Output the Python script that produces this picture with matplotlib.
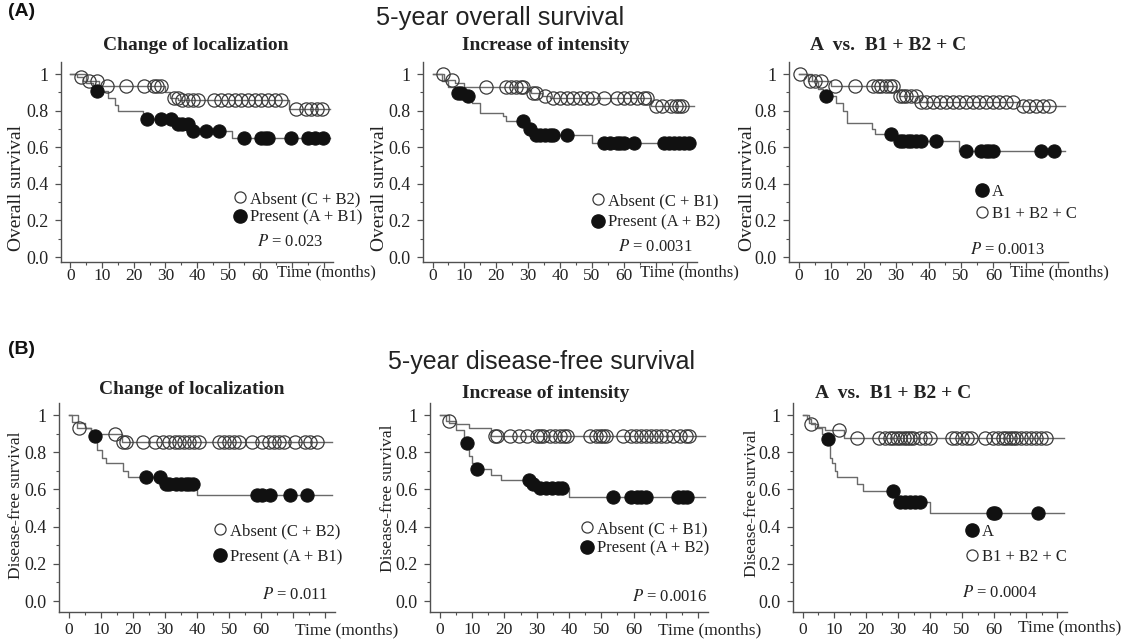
import numpy as np
import matplotlib
matplotlib.use("Agg")
import matplotlib.pyplot as plt
from matplotlib.lines import Line2D

# ---------------- data ----------------
followup_end = 82

# (A) overall survival - change of localization
os_loc_abs_t = [0, 2, 4, 9, 30, 31.5, 34, 69]
os_loc_abs_s = [1.0, 0.985, 0.96, 0.935, 0.90, 0.87, 0.86, 0.81]
os_loc_abs_c = [3.2, 5.8, 8.5, 11.6, 17.5, 23.3, 26.5, 27.5, 28.6, 32.8, 33.9, 35.4, 37.0, 38.6,
                40.2, 45.5, 47.6, 49.7, 51.9, 54.0, 56.0, 58.2, 60.3, 62.4, 64.6, 66.7, 71.4,
                74.6, 76.2, 77.8, 79.4]
os_loc_pre_t = [0, 5, 7, 12, 14, 15, 23, 32.5, 38, 51]
os_loc_pre_s = [1.0, 0.95, 0.91, 0.87, 0.83, 0.80, 0.755, 0.725, 0.69, 0.65]
os_loc_pre_c = [8.5, 24.3, 28.6, 31.7, 33.9, 35.4, 37.0, 38.6, 42.9, 47.0, 55.0, 60.3, 61.4,
                62.4, 69.8, 75.1, 77.2, 79.9]

# (A) overall survival - increase of intensity
os_int_abs_t = [0, 3.5, 7, 10, 29.5, 31, 34.5, 37, 68.5]
os_int_abs_s = [1.0, 0.97, 0.95, 0.93, 0.915, 0.897, 0.878, 0.869, 0.824]
os_int_abs_c = [3.2, 6.1, 16.8, 23.2, 24.7, 26.3, 27.9, 28.4, 31.6, 32.6, 35.3, 37.9, 40.0, 42.1,
                44.2, 46.3, 48.4, 50.5, 53.7, 57.9, 60.0, 62.1, 64.2, 66.3, 67.4, 70.0, 72.1,
                74.7, 76.3, 77.4, 78.4]
os_int_pre_t = [0, 3, 5, 7, 10, 12.5, 15, 22, 23, 29.5, 32, 50]
os_int_pre_s = [1.0, 0.96, 0.93, 0.895, 0.88, 0.84, 0.79, 0.77, 0.745, 0.70, 0.665, 0.625]
os_int_pre_c = [7.9, 8.9, 11.1, 28.4, 30.5, 32.6, 33.7, 35.3, 36.8, 37.9, 42.1, 53.7, 55.8,
                57.9, 58.9, 60.0, 63.2, 72.6, 74.2, 75.8, 77.4, 78.9, 80.5]

# (A) overall survival - A vs B1+B2+C
os_grp_oth_t = [0, 3, 10, 30, 31, 37, 68]
os_grp_oth_s = [1.0, 0.96, 0.935, 0.91, 0.88, 0.85, 0.825]
os_grp_oth_c = [0.3, 3.4, 4.9, 7.0, 11.1, 17.2, 22.9, 24.4, 25.4, 27.0, 28.0, 29.0, 31.1, 32.1,
                33.1, 34.7, 36.2, 37.7, 39.3, 41.3, 43.4, 45.4, 47.5, 49.5, 51.6, 53.6, 55.7,
                57.7, 59.8, 61.8, 63.9, 65.9, 69.0, 71.1, 73.1, 75.2, 77.2]
os_grp_a_t = [0, 4, 6, 7.5, 11.5, 13.5, 15, 22.5, 23.5, 30, 49.5]
os_grp_a_s = [1.0, 0.96, 0.92, 0.88, 0.84, 0.80, 0.73, 0.70, 0.67, 0.635, 0.58]
os_grp_a_c = [8.3, 28.5, 31.1, 32.1, 33.6, 34.7, 36.2, 37.7, 42.4, 51.6, 56.2, 57.7, 58.8,
              59.8, 74.7, 78.8]

# (B) disease-free survival - change of localization
dfs_loc_abs_t = [0, 1, 2.5, 7, 16.5]
dfs_loc_abs_s = [1.0, 0.965, 0.93, 0.90, 0.855]
dfs_loc_abs_c = [3.1, 14.4, 17.0, 18.0, 23.2, 26.8, 29.4, 31.4, 33.0, 34.5, 36.1, 37.6, 39.2,
                 40.7, 46.9, 48.5, 50.0, 51.5, 53.1, 57.2, 60.3, 62.4, 63.9, 65.5, 67.0, 70.6,
                 73.7, 75.3, 77.3]
dfs_loc_pre_t = [0, 3, 5, 7, 8.8, 10.5, 11.5, 17, 18.5, 30, 40]
dfs_loc_pre_s = [1.0, 0.96, 0.93, 0.89, 0.81, 0.77, 0.74, 0.70, 0.665, 0.63, 0.57]
dfs_loc_pre_c = [8.2, 24.0, 28.4, 30.4, 31.4, 33.5, 35.1, 36.6, 37.6, 38.7, 58.8, 60.3, 62.9,
                 69.1, 74.2]

# (B) disease-free survival - increase of intensity
dfs_int_abs_t = [0, 2, 5, 9, 16]
dfs_int_abs_s = [1.0, 0.97, 0.95, 0.93, 0.885]
dfs_int_abs_c = [2.9, 17.2, 17.7, 21.8, 24.4, 27.0, 30.0, 31.1, 32.1, 34.2, 35.7, 37.2, 38.3,
                 39.3, 46.5, 48.5, 49.5, 50.6, 51.6, 56.7, 59.3, 60.8, 62.4, 63.9, 65.4, 67.0,
                 68.5, 70.0, 72.1, 74.2, 76.2, 77.2]
dfs_int_pre_t = [0, 3, 5, 7.5, 9, 10, 11, 16, 19, 28, 30, 40]
dfs_int_pre_s = [1.0, 0.96, 0.92, 0.85, 0.78, 0.74, 0.71, 0.68, 0.65, 0.63, 0.61, 0.56]
dfs_int_pre_c = [8.5, 11.4, 27.5, 29.0, 31.1, 33.0, 34.7, 36.5, 37.7, 53.6, 59.3, 61.0, 62.4,
                 63.8, 73.6, 75.2, 76.4]

# (B) disease-free survival - A vs B1+B2+C
dfs_grp_oth_t = [0, 1.5, 2.5, 5, 7, 13]
dfs_grp_oth_s = [1.0, 0.98, 0.95, 0.935, 0.92, 0.875]
dfs_grp_oth_c = [2.8, 11.4, 17.1, 23.9, 25.9, 27.5, 28.5, 29.6, 30.6, 31.7, 32.7, 33.8, 34.8,
                 36.9, 38.4, 40.0, 46.8, 48.3, 49.9, 51.5, 53.0, 57.2, 59.8, 61.4, 62.9, 64.0,
                 65.0, 66.0, 67.1, 68.6, 70.2, 71.8, 73.3, 74.9, 76.5]
dfs_grp_a_t = [0, 2, 4, 6, 7.5, 8.5, 9.3, 10.3, 10.8, 17, 19, 29, 30, 40]
dfs_grp_a_s = [1.0, 0.96, 0.93, 0.90, 0.873, 0.77, 0.74, 0.70, 0.665, 0.63, 0.59, 0.56, 0.535, 0.476]
dfs_grp_a_c = [7.9, 28.3, 30.6, 32.2, 33.8, 35.4, 36.9, 59.8, 60.3, 73.9]

panel_titles = ["Change of localization", "Increase of intensity", "A  vs.  B1 + B2 + C"]
legend_labels = [["Absent (C + B2)", "Present (A + B1)"],
                 ["Absent (C + B1)", "Present (A + B2)"],
                 ["A", "B1 + B2 + C"]]
p_values_os = ["0.023", "0.0031", "0.0013"]
p_values_dfs = ["0.011", "0.0016", "0.0004"]
x_ticks = [0, 10, 20, 30, 40, 50, 60, 70, 80]
x_ticklabels = ["0", "10", "20", "30", "40", "50", "60", "", ""]
y_ticks = [0.0, 0.2, 0.4, 0.6, 0.8, 1.0]
y_ticklabels = ["0.0", "0.2", "0.4", "0.6", "0.8", "1"]

# ---------------- figure ----------------
plt.rcParams["font.family"] = ["Liberation Serif", "DejaVu Serif"]
plt.rcParams["mathtext.fontset"] = "stix"

W, H = 1128, 641
fig = plt.figure(figsize=(W / 100, H / 100), dpi=100)


def px(x, y):
    return x / W, 1 - y / H


def rect(l, t, r, b):
    return [l / W, 1 - b / H, (r - l) / W, (b - t) / H]


LINE_C = "#6a6a6a"
AX_C = "#505050"
TXT_C = "#222222"
SERIF = ["Liberation Serif", "DejaVu Serif"]
SANS = ["Liberation Sans", "DejaVu Sans"]


def surv_at(t, s, c):
    t = np.asarray(t, float)
    s = np.asarray(s, float)
    idx = np.searchsorted(t, np.asarray(c, float), side="right") - 1
    return s[idx]


def km(ax, t, s, c, filled):
    tt = np.r_[t, followup_end]
    ss = np.r_[s, s[-1]]
    ax.step(tt, ss, where="post", color=LINE_C, lw=1.0, zorder=2)
    if filled:
        ax.plot(c, surv_at(t, s, c), "o", ms=9.5, mfc="#111111", mec="#111111",
                mew=0.8, zorder=3, clip_on=False)
    else:
        ax.plot(c, surv_at(t, s, c), "o", ms=9.5, mfc="none", mec="#3a3a3a",
                mew=0.9, zorder=3, clip_on=False)


def style_axes(ax, ylim, xpad):
    ax.set_xlim(-3, 83)
    ax.set_ylim(*ylim)
    for sp in ["top", "right"]:
        ax.spines[sp].set_visible(False)
    for sp in ["left", "bottom"]:
        ax.spines[sp].set_color(AX_C)
        ax.spines[sp].set_linewidth(1.0)
    ax.set_xticks(x_ticks)
    ax.set_xticklabels(x_ticklabels)
    ax.set_xticks(np.arange(5, 80, 10), minor=True)
    ax.set_yticks(y_ticks)
    ax.set_yticklabels(y_ticklabels)
    ax.set_yticks(np.arange(0.1, 1.0, 0.2), minor=True)
    ax.tick_params(which="major", direction="out", length=4, width=0.9, color=AX_C,
                   labelsize=13, labelcolor=TXT_C)
    ax.tick_params(which="minor", direction="out", length=2.5, width=0.8, color=AX_C)
    ax.tick_params(axis="y", pad=5)
    ax.tick_params(axis="x", pad=xpad, labelsize=12.5)
    ax.patch.set_alpha(0)


# panel geometry in pixels: (left, top, right, bottom)
top_rects = [(61, 62, 333, 262), (423, 62, 697, 262), (789, 62, 1068, 262)]
bot_rects = [(59, 403, 335, 612), (430, 403, 708, 612), (793, 403, 1067, 612)]
top_ylim = (-0.027, 1.066)
bot_ylim = (-0.059, 1.065)

os_series = [
    (os_loc_abs_t, os_loc_abs_s, os_loc_abs_c, os_loc_pre_t, os_loc_pre_s, os_loc_pre_c),
    (os_int_abs_t, os_int_abs_s, os_int_abs_c, os_int_pre_t, os_int_pre_s, os_int_pre_c),
    (os_grp_oth_t, os_grp_oth_s, os_grp_oth_c, os_grp_a_t, os_grp_a_s, os_grp_a_c),
]
dfs_series = [
    (dfs_loc_abs_t, dfs_loc_abs_s, dfs_loc_abs_c, dfs_loc_pre_t, dfs_loc_pre_s, dfs_loc_pre_c),
    (dfs_int_abs_t, dfs_int_abs_s, dfs_int_abs_c, dfs_int_pre_t, dfs_int_pre_s, dfs_int_pre_c),
    (dfs_grp_oth_t, dfs_grp_oth_s, dfs_grp_oth_c, dfs_grp_a_t, dfs_grp_a_s, dfs_grp_a_c),
]

# layout of annotations (pixels)
top_title_pos = [(196, 45, "center"), (546, 45, "center"), (810, 45, "left")]
bot_title_pos = [(192, 390, "center"), (546, 393, "center"), (815, 393, "left")]
top_ylab_pos = [(17, 188), (380, 188), (748, 188)]
bot_ylab_pos = [(16, 505), (388, 498), (752, 503)]
top_p_pos = [(257, 242), (618, 247), (970, 250)]
bot_p_pos = [(262, 595), (632, 597), (962, 593)]
top_leg_pos = [(233, 191, 0.15), (591, 193, 0.35), (975, 184, 0.35)]
bot_leg_pos = [(213, 523, 0.6), (580, 521, 0.2), (965, 524, 0.55)]
top_time_pos = [(277, 272), (640, 272), (1010, 272)]
bot_time_pos = [(295, 630), (658, 630), (1018, 627)]


def legend_handles(k):
    open_h = Line2D([], [], ls="none", marker="o", ms=8, mfc="none", mec="#3a3a3a", mew=0.9)
    fill_h = Line2D([], [], ls="none", marker="o", ms=9.5, mfc="#111111", mec="#111111")
    if k < 2:
        return [open_h, fill_h]
    return [fill_h, open_h]


def make_row(rects, ylim, xpad, series, title_pos, ylab_pos, ylab, ylab_size, p_pos, pvals,
             leg_pos, time_pos, time_size):
    for k in range(3):
        ax = fig.add_axes(rect(*rects[k]))
        style_axes(ax, ylim, xpad)
        at, as_, ac, pt, ps, pc = series[k]
        km(ax, at, as_, ac, filled=False)
        km(ax, pt, ps, pc, filled=True)
        tx, ty, ha = title_pos[k]
        fig.text(*px(tx, ty), panel_titles[k], ha=ha, va="center", fontsize=14,
                 fontweight="bold", family=SERIF, color=TXT_C)
        fig.text(*px(*ylab_pos[k]), ylab, rotation=90, ha="center", va="center",
                 fontsize=ylab_size, family=SERIF, color=TXT_C)
        fig.text(*px(*p_pos[k]), r"$P$ = " + pvals[k], ha="left", va="center",
                 fontsize=12, family=SERIF, color=TXT_C)
        fig.text(*px(*time_pos[k]), "Time (months)", ha="left", va="center",
                 fontsize=time_size, family=SERIF, color=TXT_C)
        lx, ly, lsp = leg_pos[k]
        leg = ax.legend(legend_handles(k), legend_labels[k], loc="upper left",
                        bbox_to_anchor=px(lx, ly), bbox_transform=fig.transFigure,
                        frameon=False, borderpad=0, borderaxespad=0, handlelength=0.8,
                        handletextpad=0.2, labelspacing=lsp,
                        prop={"family": SERIF, "size": 12})
        for t in leg.get_texts():
            t.set_color(TXT_C)


make_row(top_rects, top_ylim, 0, os_series, top_title_pos, top_ylab_pos, "Overall survival",
         14, top_p_pos, p_values_os, top_leg_pos, top_time_pos, 12)
make_row(bot_rects, bot_ylim, 3, dfs_series, bot_title_pos, bot_ylab_pos,
         "Disease-free survival", 12.5, bot_p_pos, p_values_dfs, bot_leg_pos, bot_time_pos, 12.5)

# headings
fig.text(*px(8, 11), "(A)", ha="left", va="center", fontsize=14, fontweight="bold",
         family=SANS, color="#111111")
fig.text(*px(500, 18), "5-year overall survival", ha="center", va="center", fontsize=18.3,
         family=SANS, color=TXT_C)
fig.text(*px(8, 349), "(B)", ha="left", va="center", fontsize=14, fontweight="bold",
         family=SANS, color="#111111")
fig.text(*px(542, 362), "5-year disease-free survival", ha="center", va="center",
         fontsize=18, family=SANS, color=TXT_C)

fig.savefig("out.png", dpi=100, facecolor="white")
